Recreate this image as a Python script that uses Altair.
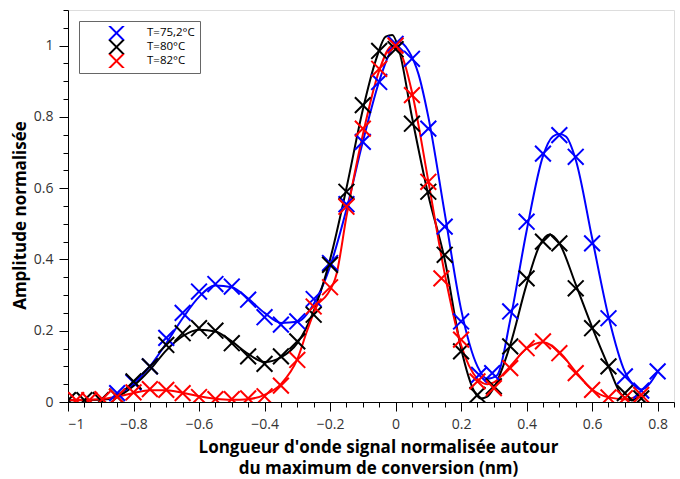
import altair as alt
import pandas as pd

series = ["T=75,2°C", "T=80°C", "T=82°C"]
colors = ["#0000ff", "#000000", "#ff0000"]

# ---- measured points (markers) ----
blue_x = [-0.85, -0.8, -0.75, -0.7, -0.65, -0.6, -0.55, -0.5, -0.45, -0.4, -0.35, -0.3, -0.25, -0.2,
          -0.15, -0.1, -0.05, 0.0, 0.05, 0.1, 0.15, 0.2, 0.255, 0.295, 0.35, 0.4, 0.45, 0.5, 0.55,
          0.6, 0.65, 0.7, 0.75, 0.8]
blue_y = [0.025, 0.055, 0.10, 0.18, 0.25, 0.31, 0.331, 0.324, 0.287, 0.238, 0.217, 0.226, 0.289, 0.39,
          0.555, 0.73, 0.898, 1.005, 0.963, 0.767, 0.492, 0.226, 0.076, 0.081, 0.254, 0.506, 0.697,
          0.749, 0.688, 0.445, 0.235, 0.072, 0.032, 0.086]

black_x = [-1.0, -0.95, -0.9, -0.85, -0.8, -0.75, -0.7, -0.65, -0.6, -0.55, -0.5, -0.45, -0.4, -0.35,
           -0.3, -0.25, -0.2, -0.15, -0.1, -0.05, 0.0, 0.05, 0.1, 0.15, 0.2, 0.25, 0.3, 0.35, 0.4,
           0.45, 0.5, 0.55, 0.6, 0.65, 0.7, 0.75]
black_y = [0.005, 0.005, 0.005, 0.015, 0.058, 0.10, 0.16, 0.193, 0.207, 0.20, 0.165, 0.128, 0.107,
           0.128, 0.17, 0.245, 0.385, 0.59, 0.833, 0.985, 0.99, 0.781, 0.59, 0.413, 0.142, 0.02,
           0.044, 0.156, 0.347, 0.45, 0.445, 0.319, 0.207, 0.10, 0.025, 0.01]

red_x = [-0.975, -0.935, -0.895, -0.85, -0.8, -0.75, -0.7, -0.65, -0.6, -0.55, -0.5, -0.45, -0.4,
         -0.35, -0.3, -0.25, -0.2, -0.15, -0.1, -0.05, 0.0, 0.05, 0.1, 0.14, 0.2, 0.25, 0.3, 0.35,
         0.4, 0.45, 0.5, 0.55, 0.6, 0.65, 0.7, 0.75]
red_y = [0.005, 0.005, 0.008, 0.015, 0.027, 0.036, 0.034, 0.025, 0.014, 0.008, 0.008, 0.01, 0.016,
         0.046, 0.118, 0.268, 0.322, 0.548, 0.767, 0.935, 1.0, 0.861, 0.618, 0.347, 0.175, 0.058,
         0.039, 0.095, 0.151, 0.17, 0.137, 0.081, 0.034, 0.013, 0.011, 0.02]

# ---- fitted curves ----
blue_cx = [-0.85, -0.8, -0.75, -0.7, -0.65, -0.6, -0.55, -0.5, -0.45, -0.4, -0.35, -0.3, -0.25, -0.2,
           -0.15, -0.1, -0.05, -0.02, 0.01, 0.04, 0.07, 0.1, 0.15, 0.2, 0.25, 0.28, 0.31, 0.35, 0.4,
           0.45, 0.48, 0.5, 0.52, 0.55, 0.6, 0.65, 0.7, 0.73, 0.75, 0.8]
blue_cy = [0.02, 0.05, 0.10, 0.165, 0.235, 0.295, 0.327, 0.322, 0.29, 0.25, 0.222, 0.225, 0.275, 0.38,
           0.54, 0.73, 0.90, 0.975, 1.01, 0.985, 0.92, 0.80, 0.53, 0.26, 0.10, 0.065, 0.075, 0.23,
           0.48, 0.69, 0.745, 0.752, 0.745, 0.68, 0.46, 0.24, 0.085, 0.045, 0.035, 0.085]

black_cx = [-1.0, -0.9, -0.85, -0.8, -0.75, -0.7, -0.65, -0.6, -0.55, -0.5, -0.45, -0.4, -0.35, -0.3,
            -0.25, -0.2, -0.15, -0.1, -0.06, -0.03, -0.01, 0.01, 0.05, 0.1, 0.15, 0.2, 0.24, 0.26,
            0.28, 0.3, 0.35, 0.4, 0.44, 0.47, 0.5, 0.55, 0.6, 0.65, 0.69, 0.72, 0.75]
black_cy = [0.005, 0.006, 0.015, 0.045, 0.09, 0.145, 0.185, 0.203, 0.198, 0.17, 0.135, 0.112, 0.125,
            0.165, 0.255, 0.40, 0.60, 0.82, 0.96, 1.025, 1.03, 0.99, 0.80, 0.58, 0.40, 0.15, 0.03,
            0.01, 0.015, 0.04, 0.16, 0.33, 0.44, 0.47, 0.445, 0.33, 0.21, 0.10, 0.02, 0.005, 0.02]

red_cx = [-1.0, -0.9, -0.85, -0.8, -0.75, -0.7, -0.65, -0.6, -0.55, -0.5, -0.45, -0.4, -0.35, -0.3,
          -0.27, -0.24, -0.21, -0.18, -0.15, -0.1, -0.05, -0.01, 0.02, 0.05, 0.1, 0.15, 0.2, 0.25,
          0.28, 0.3, 0.35, 0.4, 0.45, 0.5, 0.55, 0.6, 0.65, 0.7, 0.75]
red_cy = [0.005, 0.008, 0.015, 0.025, 0.033, 0.033, 0.026, 0.016, 0.009, 0.006, 0.008, 0.02, 0.05,
          0.12, 0.2, 0.27, 0.30, 0.36, 0.52, 0.75, 0.93, 1.0, 0.97, 0.87, 0.62, 0.36, 0.16, 0.065,
          0.05, 0.055, 0.10, 0.15, 0.168, 0.14, 0.085, 0.035, 0.013, 0.008, 0.02]

x_major = [-1, -0.8, -0.6, -0.4, -0.2, 0, 0.2, 0.4, 0.6, 0.8]
y_major = [0, 0.2, 0.4, 0.6, 0.8, 1]
x_minor = [round(-1 + 0.05 * i, 2) for i in range(38)]
y_minor = [round(0.05 * i, 2) for i in range(23)]

x_title = ["Longueur d'onde signal normalisée autour", "du maximum de conversion (nm)"]
y_title = "Amplitude normalisée"

pts = []
for name, xs, ys in zip(series, [blue_x, black_x, red_x], [blue_y, black_y, red_y]):
    for x, y in zip(xs, ys):
        pts.append({"x": x, "y": y, "serie": name})
crv = []
for name, xs, ys in zip(series, [blue_cx, black_cx, red_cx], [blue_cy, black_cy, red_cy]):
    for x, y in zip(xs, ys):
        crv.append({"x": x, "y": y, "serie": name})
pts = pd.DataFrame(pts)
crv = pd.DataFrame(crv)

FONT = "Open Sans"
xscale = alt.Scale(domain=[-1, 0.85], nice=False, zero=False)
yscale = alt.Scale(domain=[0, 1.1], nice=False, zero=False)
cscale = alt.Scale(domain=series, range=colors)
XSHAPE = "M-1,-1L1,1M-1,1L1,-1"

lines = alt.Chart(crv).mark_line(strokeWidth=2, clip=True, interpolate="monotone").encode(
    x=alt.X("x:Q", scale=xscale, axis=alt.Axis(
        values=x_major, format="~g", orient="bottom", grid=False, tickSize=9, tickColor="black",
        domainColor="black", labelFont=FONT, labelFontSize=14, labelColor="#333", labelPadding=6,
        title=x_title, titleFont=FONT, titleFontSize=17, titleFontWeight="bold", titleColor="black",
        titleX=310, titleY=37, titleBaseline="top", titleAlign="center", titleLineHeight=21)),
    y=alt.Y("y:Q", scale=yscale, axis=alt.Axis(
        values=y_major, format="~g", orient="left", grid=False, tickSize=9, tickColor="black",
        domainColor="black", labelFont=FONT, labelFontSize=14, labelColor="#333", labelPadding=6,
        title=y_title, titleFont=FONT, titleFontSize=17, titleFontWeight="bold", titleColor="black",
        titleX=-48, titleY=205, titleAngle=270, titleAlign="center", titleBaseline="middle")),
    color=alt.Color("serie:N", scale=cscale, legend=None),
    detail="serie:N",
)

points = alt.Chart(pts).mark_point(shape=XSHAPE, filled=False, size=250, strokeWidth=2,
                                   opacity=1, clip=True).encode(
    x=alt.X("x:Q", scale=xscale, axis=alt.Axis(
        values=x_minor, orient="bottom", labels=False, grid=False, domain=False, tickSize=5,
        tickColor="black", title=None)),
    y=alt.Y("y:Q", scale=yscale, axis=alt.Axis(
        values=y_minor, orient="left", labels=False, grid=False, domain=False, tickSize=5,
        tickColor="black", title=None)),
    color=alt.Color("serie:N", scale=cscale, sort=series, legend=alt.Legend(
        title=None, orient="none", legendX=11, legendY=11, symbolType=XSHAPE, symbolSize=220,
        symbolStrokeWidth=2, symbolOffset=24, labelOffset=22, labelFont=FONT, labelFontSize=11.5,
        labelColor="black", padding=5, rowPadding=0, clipHeight=14, strokeColor="#666",
        fillColor="white")),
)

chart = alt.layer(lines, points).resolve_axis(x="independent", y="independent").resolve_scale(
    x="shared", y="shared", color="shared"
).resolve_legend(color="independent").properties(
    width=606, height=392,
    autosize=alt.AutoSizeParams(type="none"),
    padding={"left": 68, "top": 10, "right": 6, "bottom": 77},
).configure_view(stroke=None).configure(background="white")

chart.save("out.html", embed_options={"renderer": "svg", "actions": False})
